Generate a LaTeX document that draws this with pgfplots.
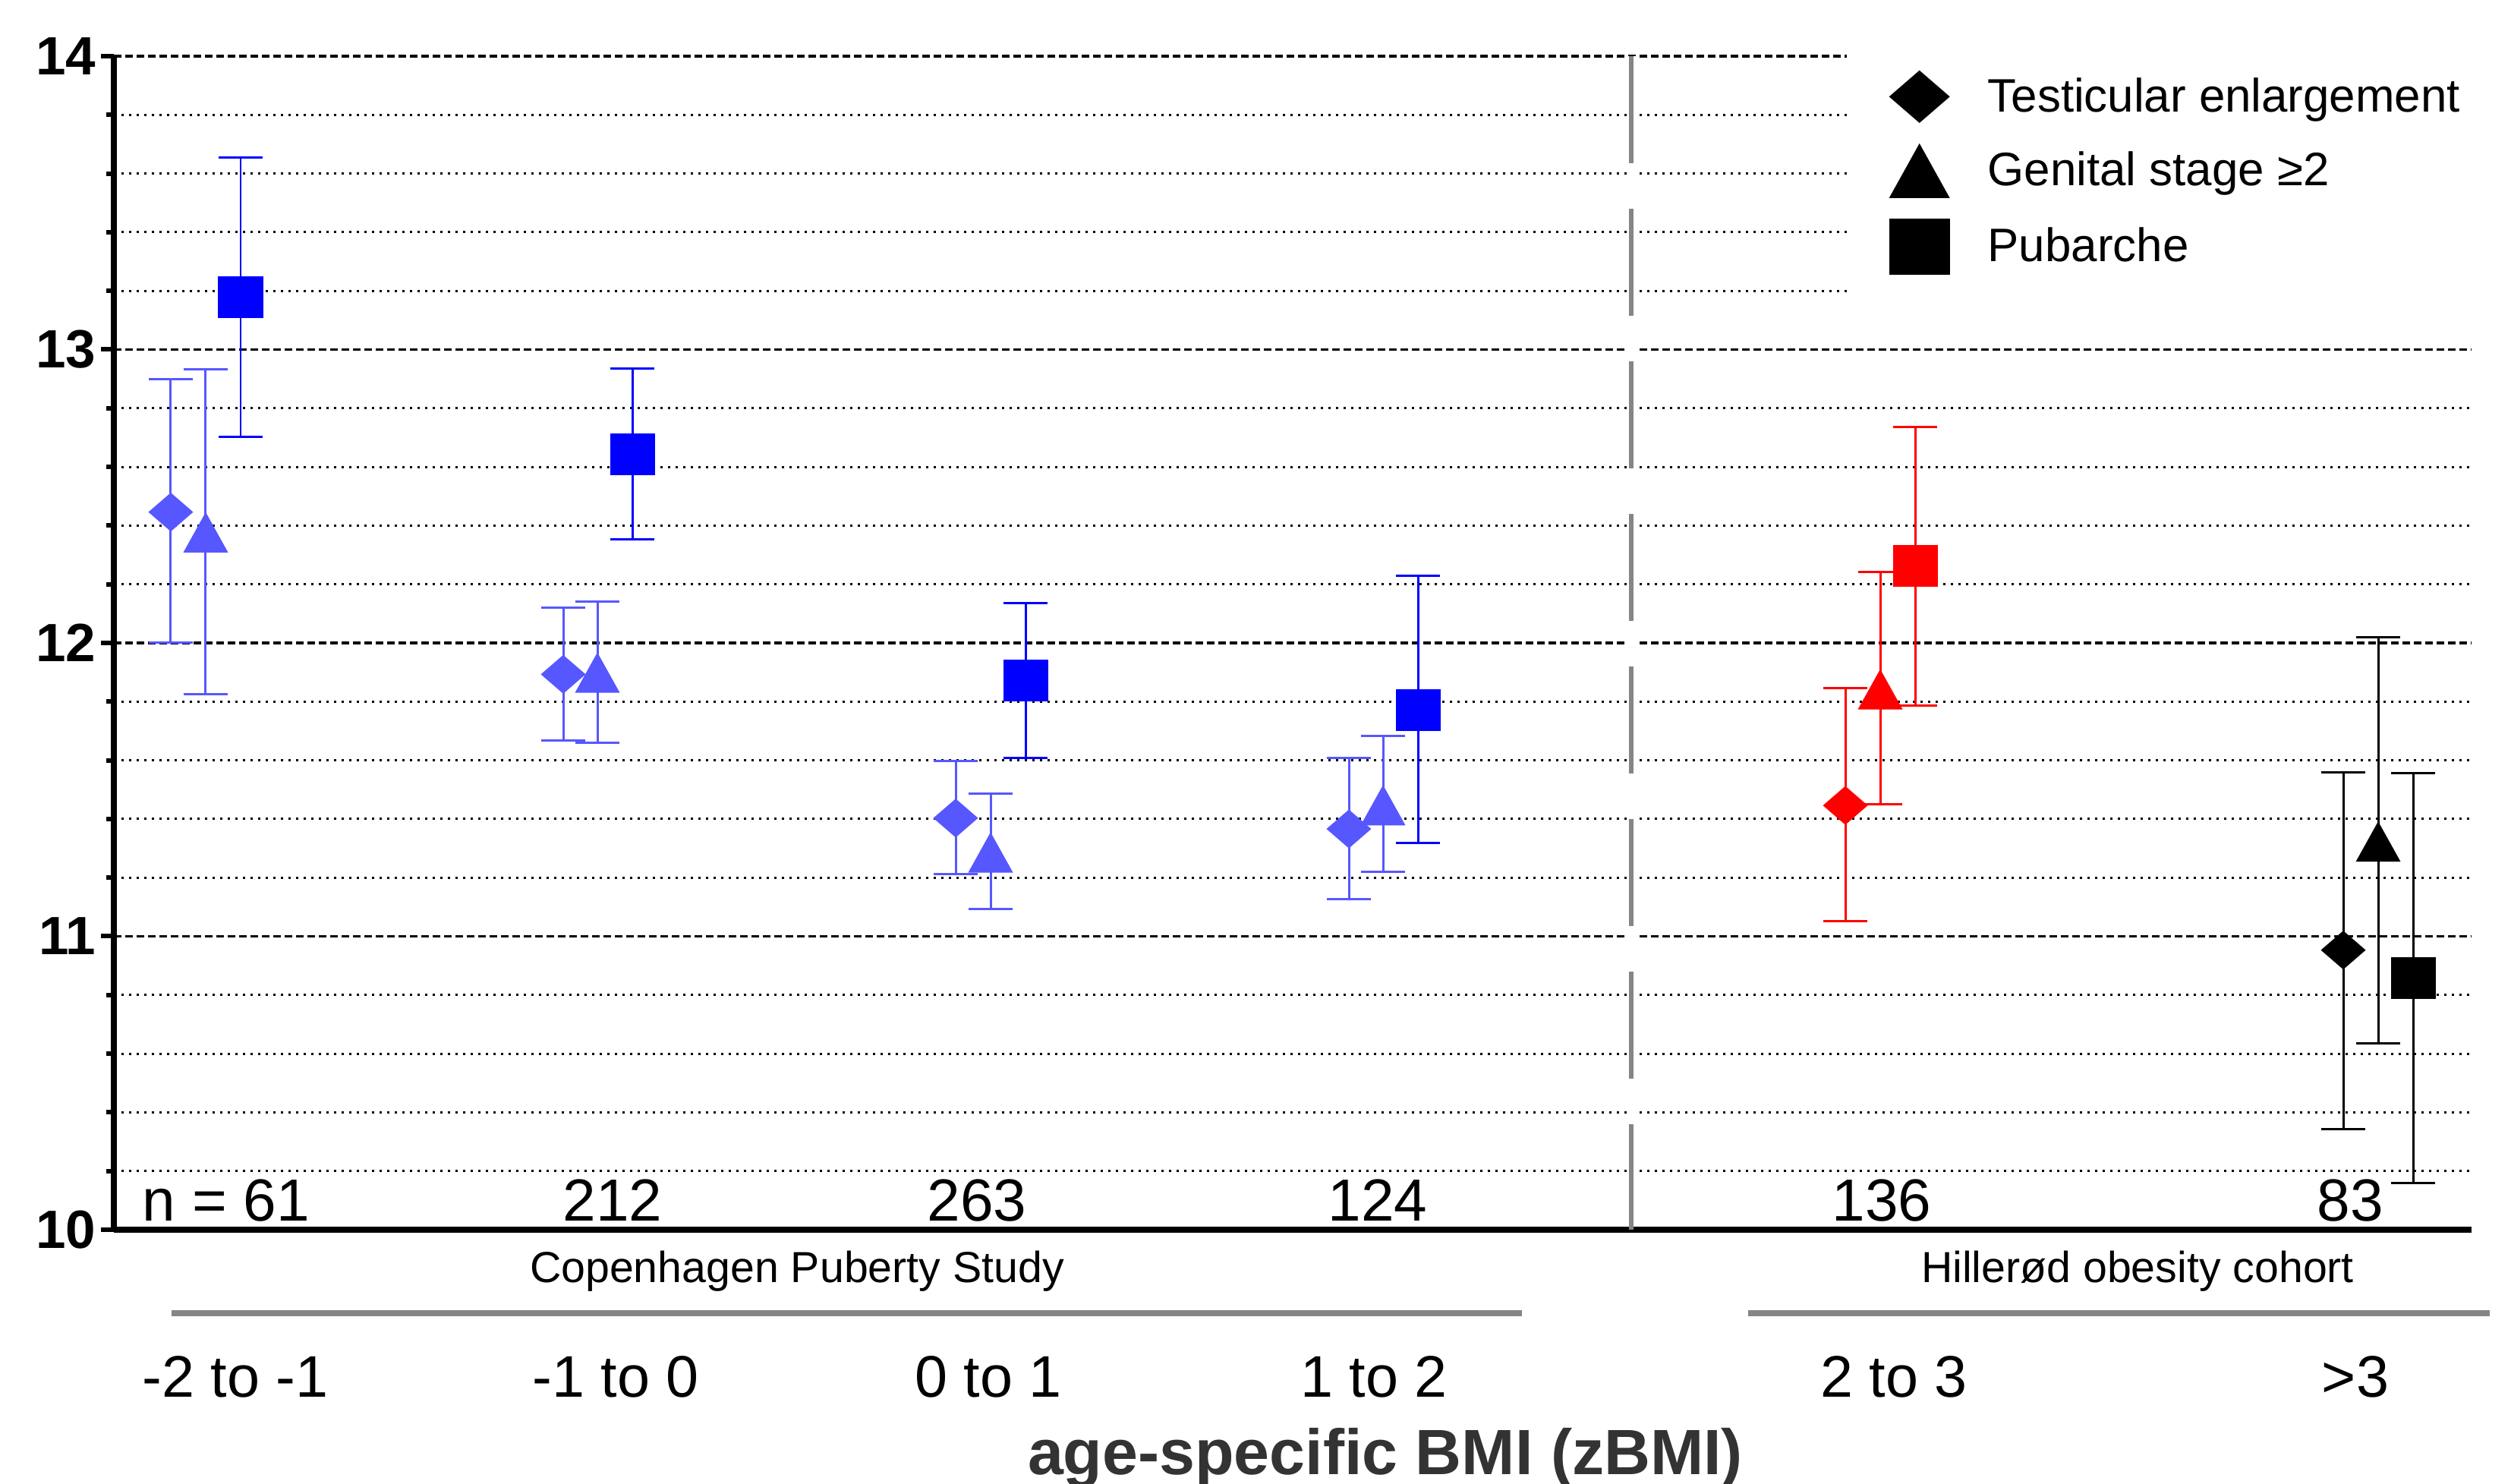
\documentclass[border=0pt]{standalone}
\usepackage{fontspec}
\setmainfont{Liberation Sans}
\usepackage{pgfplots}
\pgfplotsset{compat=1.18}
\usepackage{pgfplotstable}

\definecolor{lblue}{RGB}{87,87,255}
\definecolor{dblue}{RGB}{0,0,255}
\definecolor{rouge}{RGB}{255,0,0}
\definecolor{grisl}{RGB}{133,133,133}
\definecolor{grisx}{RGB}{51,51,51}

% marks: \pgfplotmarksize = half width
\pgfdeclareplotmark{gdia}{%
  \pgfpathmoveto{\pgfqpoint{-\pgfplotmarksize}{0pt}}%
  \pgfpathlineto{\pgfqpoint{0pt}{.865\pgfplotmarksize}}%
  \pgfpathlineto{\pgfqpoint{\pgfplotmarksize}{0pt}}%
  \pgfpathlineto{\pgfqpoint{0pt}{-.865\pgfplotmarksize}}%
  \pgfpathclose\pgfusepathqfill}
\pgfdeclareplotmark{gtri}{%
  \pgfpathmoveto{\pgfqpoint{-\pgfplotmarksize}{-.9\pgfplotmarksize}}%
  \pgfpathlineto{\pgfqpoint{\pgfplotmarksize}{-.9\pgfplotmarksize}}%
  \pgfpathlineto{\pgfqpoint{0pt}{.9\pgfplotmarksize}}%
  \pgfpathclose\pgfusepathqfill}
\pgfdeclareplotmark{gsq}{%
  \pgfpathrectangle{\pgfqpoint{-\pgfplotmarksize}{-.93\pgfplotmarksize}}{\pgfqpoint{2\pgfplotmarksize}{1.86\pgfplotmarksize}}%
  \pgfusepathqfill}

% x = horizontal position, y = mean age, hi/lo = CI limits
\pgfplotstableread{
x y hi lo
225 12.446 12.898 12.000
742 11.893 12.120 11.668
1259 11.403 11.598 11.211
1777 11.366 11.607 11.128
}\cpsdia
\pgfplotstableread{
x y hi lo
271 12.377 12.934 11.826
787 11.899 12.141 11.661
1305 11.286 11.487 11.094
1822 11.447 11.683 11.221
}\cpstri
\pgfplotstableread{
x y hi lo
317 13.178 13.654 12.703
833 12.644 12.936 12.353
1351 11.872 12.136 11.609
1868 11.771 12.228 11.317
}\cpssq
\pgfplotstableread{
x y hi lo
2431 11.446 11.846 11.051
}\hildia
\pgfplotstableread{
x y hi lo
2477 11.842 12.243 11.450
}\hiltri
\pgfplotstableread{
x y hi lo
2523 12.262 12.736 11.786
}\hilsq
\pgfplotstableread{
x y hi lo
3087 10.953 11.560 10.343
}\obdia
\pgfplotstableread{
x y hi lo
3133 11.323 12.020 10.636
}\obtri
\pgfplotstableread{
x y hi lo
3179 10.858 11.556 10.159
}\obsq

\pgfplotsset{
  ci/.style={only marks, mark size=0.295cm, forget plot,
    error bars/y dir=both, error bars/y explicit,
    error bars/error mark=|,
    error bars/error bar style={line width=0.03cm, solid},
    error bars/error mark options={line width=0.03cm, mark size=0.29cm, solid}},
  table/citab/.style={x=x, y=y, y error plus expr=\thisrow{hi}-\thisrow{y},
    y error minus expr=\thisrow{y}-\thisrow{lo}},
}
\tikzset{nlab/.style={anchor=base, inner sep=0pt, font=\fontsize{22.3}{26}\selectfont},
  glab/.style={anchor=base, inner sep=0pt, font=\fontsize{16.3}{19}\selectfont}}

\begin{document}
\begin{tikzpicture}
\begin{axis}[name=ax,
  scale only axis, width=31.06cm, height=15.46cm,
  xmin=150, xmax=3256, ymin=10, ymax=14,
  clip=false,
  axis x line=bottom, axis y line=left,
  axis line style={-, line width=0.08cm, black},
  every outer x axis line/.append style={-},
  every outer y axis line/.append style={-},
  ytick={10,11,12,13,14}, minor y tick num=4,
  tick align=outside, major tick length=0.17cm, minor tick length=0.10cm,
  tick style={line width=0.06cm, black},
  xtick style={draw=none},
  /pgf/number format/assume math mode=true,
  yticklabel style={font=\fontsize{20.2}{24}\selectfont\bfseries, inner sep=0pt, xshift=-0.06cm},
  xtick={310,811,1302,1810,2495,3103},
  xticklabels={-2 to -1,-1 to 0,0 to 1,1 to 2,2 to 3,>3},
  xticklabel style={font=\fontsize{22}{26}\selectfont, anchor=base, inner sep=0pt, yshift=-2.03cm},
  xlabel={age-specific BMI (zBMI)},
  xlabel style={at={(axis description cs:0.5393,0)}, anchor=base, yshift=-3.23cm,
    font=\fontsize{24}{28}\selectfont\bfseries, text=grisx, inner sep=0pt},
  ymajorgrids, yminorgrids,
  major grid style={black, line width=0.035cm, dash pattern=on 0.10cm off 0.05cm},
  minor grid style={black, line width=0.03cm, dash pattern=on 0.03cm off 0.07cm},
  legend image code/.code={\path[#1] plot[only marks] coordinates {(0cm,0cm)};},
  legend cell align=left,
  legend style={at={(0.7347,1.0045)}, anchor=north west, draw=none, fill=white,
    inner xsep=0.56cm, inner ysep=0.25cm, row sep=0.27cm, column sep=0.5cm,
    font=\fontsize{17.6}{20}\selectfont, nodes={inner sep=0pt}},
]
% Copenhagen Puberty Study
\addplot[lblue, mark=gdia, ci] table[citab] {\cpsdia};
\addplot[lblue, mark=gtri, ci] table[citab] {\cpstri};
\addplot[dblue, mark=gsq, ci] table[citab] {\cpssq};
% zBMI 2 to 3
\addplot[rouge, mark=gdia, ci] table[citab] {\hildia};
\addplot[rouge, mark=gtri, ci] table[citab] {\hiltri};
\addplot[rouge, mark=gsq, ci] table[citab] {\hilsq};
% zBMI >3
\addplot[black, mark=gdia, ci] table[citab] {\obdia};
\addplot[black, mark=gtri, ci] table[citab] {\obtri};
\addplot[black, mark=gsq, ci] table[citab] {\obsq};

\addlegendimage{black, mark=gdia, mark size=0.40cm}
\addlegendentry{Testicular enlargement}
\addlegendimage{black, mark=gtri, mark size=0.40cm}
\addlegendentry{Genital stage ≥2}
\addlegendimage{black, mark=gsq, mark size=0.40cm}
\addlegendentry{Pubarche}

% divider between the two cohorts
\draw[white, line width=0.13cm] (axis cs:2149,10.01) -- (axis cs:2149,14);
\draw[grisl, line width=0.06cm, dash pattern=on 1.41cm off 0.60cm] (axis cs:2149,14) -- (axis cs:2149,10);

% n per group
\node[nlab] at (axis cs:298,10.031) {n = 61};
\node[nlab] at (axis cs:807,10.031) {212};
\node[nlab] at (axis cs:1287,10.031) {263};
\node[nlab] at (axis cs:1815,10.031) {124};
\node[nlab] at (axis cs:2479,10.031) {136};
\node[nlab] at (axis cs:3096,10.031) {83};

% cohort labels
\node[glab] at (axis cs:1050,9.819) {Copenhagen Puberty Study};
\node[glab] at (axis cs:2816,9.819) {Hillerød obesity cohort};
\draw[grisl, line width=0.075cm] (axis cs:226,9.7154) -- (axis cs:2005,9.7154);
\draw[grisl, line width=0.075cm] (axis cs:2303,9.7154) -- (axis cs:3280,9.7154);
\end{axis}
\pgfresetboundingbox
\path[use as bounding box] (ax.south west) ++(-1.5cm,-3.35cm) rectangle ++(33.08cm,19.55cm);
\end{tikzpicture}
\end{document}
